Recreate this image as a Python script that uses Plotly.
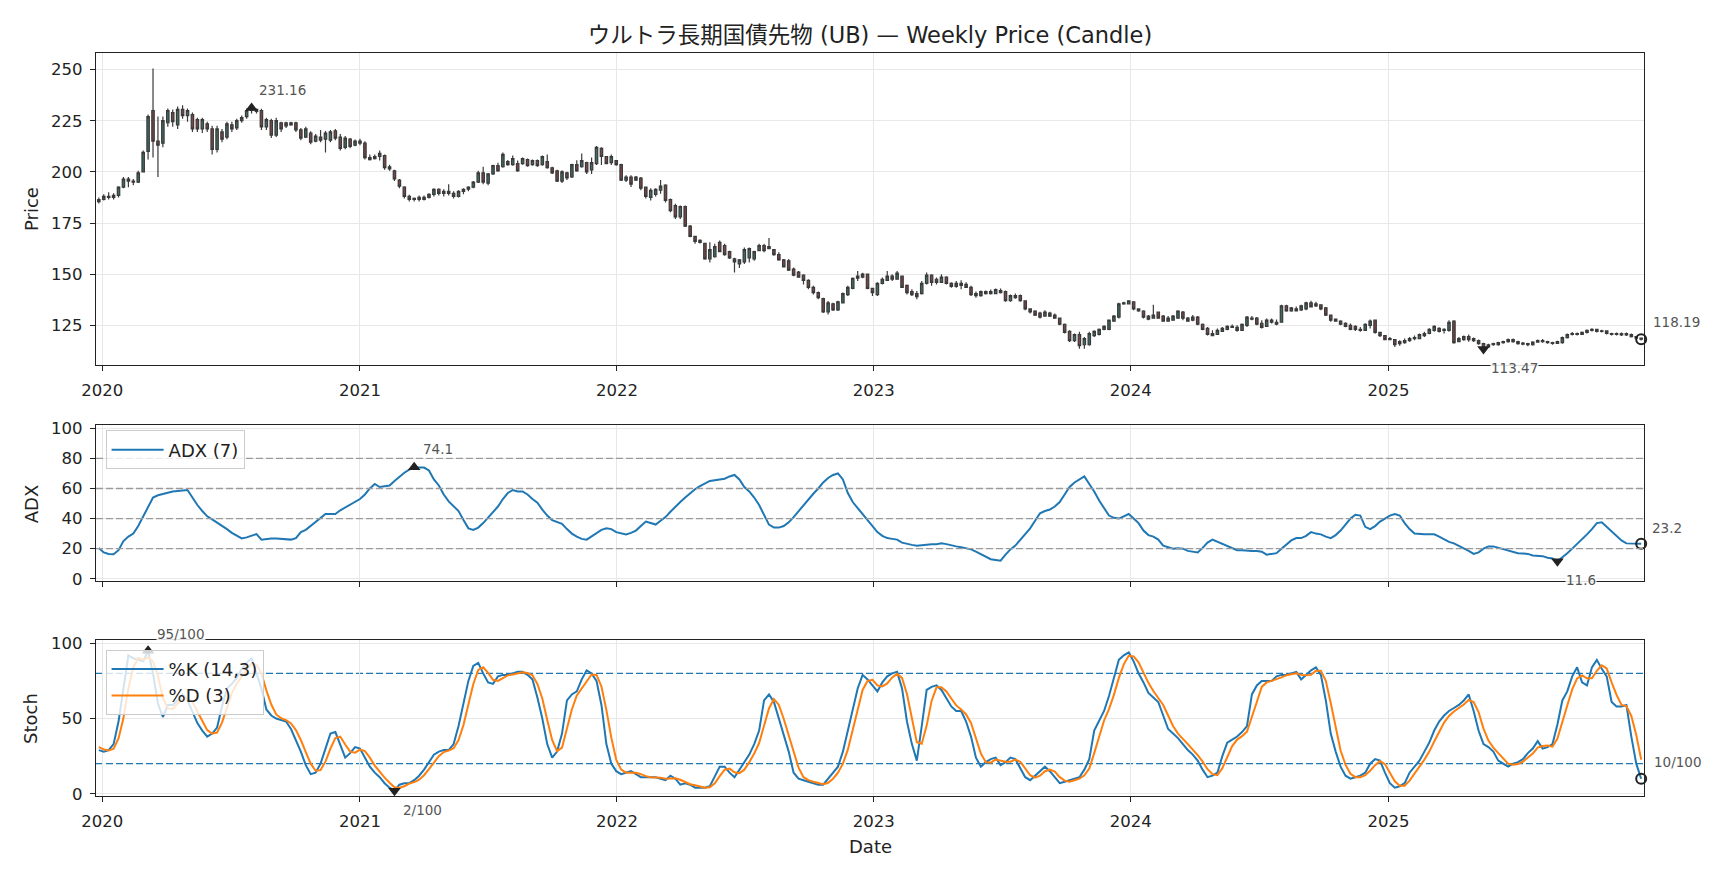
import pandas as pd
import plotly.graph_objects as go

# ---------------- data ----------------
start_date = "2019-12-27"
n_weeks = 314
dates = pd.date_range(start_date, periods=n_weeks, freq="7D")

price_open = [
    185.5, 186.5, 188, 187.5, 188.5, 192.5, 196.5, 195.5, 195, 200,
    210, 230, 215, 214, 224, 229, 223, 230.5, 227.5, 228,
    225.5, 221, 223.5, 221, 211, 219.5, 217, 223, 221.5, 225,
    227, 230, 230.5, 230, 222, 225, 218, 224, 224, 223,
    224, 220.5, 217, 219, 215, 217, 216, 215.5, 220, 217,
    212, 216, 213, 215, 214, 207, 206.5, 207.5, 208, 202.5,
    200.5, 196, 192.5, 188, 186.5, 186.5, 187.5, 187.5, 189, 191.5,
    189.5, 190.5, 189.5, 188, 190.5, 191.5, 192.5, 195, 199.5, 194.5,
    199, 203, 202.5, 205, 203.5, 204, 204, 206, 203.5, 205.5,
    203.5, 205, 202, 200.5, 195.5, 199.5, 197.5, 203.5, 202.5, 204.5,
    201, 204, 211.5, 207.5, 204.5, 205.5, 203.5, 196, 197.5, 196,
    197, 192.5, 187.5, 189, 191, 193.5, 186.5, 183.5, 178, 183,
    173.5, 168.5, 166.5, 165, 157.5, 158.5, 165.5, 164, 161, 157.5,
    155, 156, 158, 157.5, 161.5, 164, 162.5, 162, 159.5, 157,
    156.5, 152.5, 151, 149.5, 147, 143.5, 141, 138, 131.5, 135.5,
    132.5, 136, 140, 143, 148, 148.5, 150, 143, 140, 145.5,
    147, 149, 147.5, 149, 144.5, 141.5, 140.5, 140.5, 145.5, 149.5,
    147.5, 146, 148.5, 145.5, 144, 145.5, 145, 143.5, 140.5, 139.5,
    140.5, 141.5, 140.5, 142, 141.5, 137, 139.5, 139.5, 137, 133,
    132, 131, 129.5, 131, 130, 128.5, 125.5, 122, 117.5, 120.5,
    115.5, 115.5, 120, 120.5, 123, 123, 127, 129, 135.5, 135.5,
    136.5, 133, 132, 129.5, 128.5, 131.5, 129.5, 127, 127.5, 128.5,
    131.5, 128.5, 127.5, 129, 125.5, 123.5, 121, 120.5, 122, 123,
    124.5, 124, 122.5, 125, 128.5, 128.5, 126, 124.5, 127.5, 126.5,
    126.5, 134.5, 132, 133, 132.5, 133, 136, 134.5, 135, 133.5,
    130, 128, 127, 126, 125, 124.5, 123, 122.5, 125, 127.5,
    121.5, 120, 118, 118, 116, 116.5, 117.5, 118.5, 118.5, 120,
    121, 122.5, 123.5, 122.5, 122.5, 127, 117, 118, 119.5, 118.5,
    117.5, 116, 114.5, 115.5, 115.5, 116.5, 117, 118, 117, 116.3,
    116, 115.5, 116.8, 117.5, 117, 116.5, 116.2, 116.5, 119, 120.5,
    121, 120.5, 121.5, 122.5, 123, 122, 122.3, 121, 120.5, 121,
    120.3, 120.5, 119.5, 118.7,
]
price_high = [
    187.5, 189, 190, 189.5, 193, 197.5, 197.5, 196.5, 200.5, 210.5,
    228, 250.5, 227, 227, 231, 230.5, 232, 232.5, 231, 229,
    226.5, 226.5, 224.5, 222.5, 222.5, 221, 224.5, 224.5, 226, 227.5,
    231, 231.8, 231, 230.8, 226.5, 226, 226.5, 224.5, 224.5, 224.5,
    224.5, 221.5, 222, 219.8, 218.5, 220.5, 220, 220.5, 221, 218.5,
    217.5, 216.5, 215.8, 216.2, 215, 208.5, 208.5, 210.5, 208.5, 203.5,
    201, 196.5, 193, 188.8, 187.5, 188.5, 188.5, 189.5, 192, 192,
    191.5, 194, 190.5, 191, 192, 193, 195.5, 200.5, 202.5, 199.5,
    203.5, 204.5, 209.5, 205.8, 208, 205.5, 207, 206.5, 206, 206,
    208, 208.5, 202.5, 201, 200.8, 200, 204, 205.7, 209, 205,
    207, 212.6, 212, 207.8, 208.5, 205.8, 204, 198.4, 198.4, 198,
    197.5, 192.8, 192, 192, 196, 194, 187, 184.4, 183.6, 183.6,
    174, 168.8, 167, 165.3, 165.6, 164.8, 166.4, 164.8, 161.5, 158,
    157.4, 163, 163, 161.5, 164.8, 164.8, 167.7, 162.3, 160.7, 157.4,
    157.4, 153.3, 151.6, 150, 147.5, 144.3, 141.5, 138.5, 136.9, 136,
    137, 141, 144.3, 148.4, 151.6, 150.7, 150, 143.4, 146, 148.4,
    151.6, 150, 151.6, 149, 145, 142.6, 141.8, 146.7, 150.8, 150,
    148.4, 150, 149, 146, 146.7, 147, 146, 144.3, 141.5, 142,
    142, 142.5, 143, 143, 142, 140, 140.6, 140, 137, 133,
    132.4, 131.6, 132.4, 131.6, 130.8, 128.5, 125.9, 122.6, 121, 121.8,
    119.3, 121.8, 122.6, 123.4, 125, 127.8, 130, 136, 136.5, 137.3,
    136.5, 133, 132.4, 130, 135, 131.6, 130, 129.5, 130, 132.4,
    132, 129, 130, 129.5, 125.9, 124.2, 122.6, 123.4, 124.2, 125,
    125.4, 125, 125.9, 129.5, 129.5, 129, 127.5, 128.3, 128.3, 127.8,
    135, 135, 134, 134.2, 135, 136.5, 137, 136.5, 135, 134,
    130, 128.3, 127.5, 126.5, 125.9, 125, 124.2, 126, 127.8, 127.8,
    121.8, 120, 119.3, 118, 117.7, 118.5, 119.3, 120, 121, 121.8,
    123.6, 125, 124, 123.5, 127.5, 127.5, 119.3, 120, 120.5, 119,
    118, 116.5, 116, 116.5, 117, 117.5, 118.5, 118.5, 117.5, 116.8,
    116.5, 117.2, 118, 118.3, 117.5, 117, 117.5, 119.5, 121, 121.7,
    121.5, 122, 123, 123.5, 123.3, 122.8, 122.5, 121.3, 121.5, 121.5,
    121.5, 121, 119.8, 119,
]
price_low = [
    184.5, 186, 186.5, 186.5, 187.5, 192, 192.5, 193.5, 194.5, 200,
    206, 207, 197.5, 212, 222, 222, 221, 226, 224.5, 219.5,
    219.5, 219, 219.5, 208.5, 209.5, 214.5, 216, 219.5, 220.5, 224,
    226, 228.5, 228.5, 220.5, 220.5, 216.5, 217, 219.5, 221.5, 222.5,
    219.5, 215.5, 216.5, 213.5, 214.5, 214.5, 209.5, 214.5, 215.5, 210.5,
    211, 211.5, 212.5, 213, 206, 205.5, 206, 205.5, 201, 200.5,
    195.5, 192, 187, 185.5, 185.5, 185.5, 186, 187, 188, 188.5,
    188, 188.5, 187, 187.5, 189, 190.5, 192, 194.5, 194, 193.5,
    198.5, 200, 202, 203, 203, 200, 203.5, 202.5, 203, 202.5,
    203, 201.5, 199, 195, 194.5, 196, 197, 200, 202, 199,
    199, 203.3, 203.3, 203.8, 203.3, 203, 195.5, 195, 192.6, 195.5,
    191, 187, 186, 188, 189.3, 185, 180.3, 177, 177, 173,
    168, 164.8, 165, 157, 155.7, 158, 160.7, 159, 157.4, 150.8,
    153, 155, 155.7, 156.6, 161.5, 160.7, 162.3, 159, 156.6, 153.3,
    151.6, 149, 148.4, 145, 142.6, 140, 137.7, 131, 130.3, 132,
    132, 136, 139.3, 142.6, 146.7, 148, 142.6, 139.3, 139.3, 145,
    146.7, 146.7, 147.5, 143.4, 140, 139.3, 137.7, 140, 145, 144.3,
    145, 145.9, 145, 143.4, 143.4, 142.6, 143.4, 139.3, 138.5, 139,
    140, 140, 140.5, 140.5, 136.5, 136.5, 138, 136.5, 132.4, 130.8,
    129.5, 128.3, 129.5, 129, 128.3, 125, 121, 116.8, 116.8, 113.5,
    113.5, 115, 119.3, 120, 122.6, 122.6, 126.7, 128.3, 135, 135.4,
    132.4, 131.6, 128.3, 127.5, 128.3, 128.3, 126.7, 126.7, 127.5, 128.3,
    127.5, 126.7, 127, 125, 122.6, 120, 119.6, 120.5, 121.8, 122.6,
    123.7, 121.8, 122.6, 124.2, 127.5, 125, 123.4, 124.5, 125.9, 125,
    126.5, 131.6, 131.6, 131.8, 132, 132.4, 133.7, 134, 132.4, 129.5,
    126.7, 126.7, 125, 124, 122.6, 122.2, 121.8, 122.2, 123.4, 120.9,
    119.3, 117.7, 117.7, 114.4, 115, 116, 117, 117.7, 118.5, 119.3,
    120.6, 121.8, 121.5, 121, 121.8, 116, 116.8, 117.5, 117, 116.8,
    115.5, 113.0, 114, 115, 115, 116, 116.5, 116.5, 115.5, 115.3,
    114.8, 115, 116.5, 116.5, 116, 115.5, 115.8, 116, 118.5, 120,
    120, 120.3, 121, 122, 121.5, 121.5, 120.5, 120, 120, 119.8,
    119.8, 119, 118.2, 117.6,
]
price_close = [
    186.5, 188, 187.5, 188.5, 192.5, 196.5, 195.5, 195, 199.5, 209.5,
    227, 215, 213, 225, 230, 224.5, 230.5, 227.5, 230, 221,
    221, 225.5, 221, 211, 221, 216, 223.5, 221, 225, 226.5,
    230, 231.16, 229.5, 222, 225.5, 218, 225, 221, 222.5, 224,
    220.5, 216.5, 221, 214.5, 217.5, 215.5, 219, 219.5, 216.5, 211.5,
    216.5, 212.5, 215, 214, 207, 206, 207.5, 209, 202, 201.5,
    196.5, 193, 188, 186.5, 187, 187.5, 186.5, 189, 191.5, 189.5,
    190.5, 189.5, 188, 190.5, 191.5, 192.5, 195, 199.5, 195, 199,
    203, 200.5, 208.5, 203.5, 206.5, 200.5, 206.5, 203, 205.5, 203,
    207.5, 202, 199.5, 195.5, 200, 197, 203.5, 200.5, 205.5, 200,
    204.5, 212, 207.5, 204, 207.5, 203.5, 196, 197.5, 194, 197.5,
    192, 188, 191, 191.5, 193, 186, 181, 178, 183, 173.5,
    168.5, 166, 165.5, 157.5, 162, 163.5, 161, 159.5, 158, 156,
    157, 162, 162.5, 161, 164, 161.5, 163.5, 159.5, 157, 153.5,
    152, 149.5, 148.5, 147, 143.5, 141, 138.5, 131.5, 136, 132.5,
    136.5, 140.5, 143.5, 148, 149, 150, 143, 141, 145.5, 147.5,
    149, 147.5, 150.5, 143.5, 141, 140, 139, 145.5, 149.5, 146,
    146, 148.5, 145.5, 144, 145.5, 144.5, 143.5, 140, 139.5, 141.5,
    141.5, 140.5, 142.5, 141, 137, 139.5, 138.5, 137, 133, 131.5,
    130, 129, 131.5, 129.5, 128.5, 125.5, 121.5, 117.5, 120.5, 115,
    118.5, 121, 122, 123, 124.5, 127.5, 129.5, 135.5, 136, 137,
    133, 132, 129, 128, 130, 128.5, 127, 128.5, 129.5, 132,
    128.5, 127, 129, 125.5, 123, 120.5, 120, 122.5, 123.5, 124.5,
    124, 122.5, 125.5, 129, 128, 125.5, 124, 127.5, 126.5, 125.5,
    134.5, 132, 133.5, 132, 134.5, 136, 134, 135.5, 133, 130,
    127.5, 127, 125.5, 124.5, 123, 123, 122.5, 125.5, 127, 121.5,
    120, 118, 118.5, 115.5, 117, 117.5, 118.5, 119, 120.5, 121,
    123, 124.5, 122, 123, 126.5, 116.5, 118.5, 119.5, 118, 117.5,
    116, 113.47, 115.5, 116, 116.5, 117, 118, 117, 116, 115.8,
    115.5, 116.8, 117.5, 117, 116.5, 116.2, 117, 119, 120.5, 121,
    120.5, 121.5, 122.5, 123, 122, 122.3, 121, 120.5, 121, 120.3,
    121, 119.5, 118.7, 118.19,
]
adx_7 = [
    20.5, 17.5, 16.5, 16.3, 19, 25, 28, 30, 35, 41,
    47, 54, 55.5, 56.5, 57.4, 58, 58.3, 58.7, 59, 54,
    49, 45, 41.5, 39.5, 37.5, 35.5, 33, 30.5, 28.5, 26.8,
    27.5, 28.5, 29.7, 26, 26.5, 26.8, 26.8, 26.6, 26.2, 26,
    27, 31, 32.5, 35, 38, 40.5, 43, 43, 43, 45.5,
    47.5, 49.5, 51.5, 53, 56, 60, 63, 61, 61.5, 62,
    65, 68, 70.5, 72.6, 74.1, 74.0, 73.9, 72, 66, 62,
    56, 51.4, 48, 45, 39, 33.5, 32.4, 34, 37, 40.5,
    44, 48, 53, 57, 59, 58, 58, 56, 53, 50.5,
    46, 42, 39, 37.5, 36.5, 33, 30, 28, 26.5, 26,
    28, 30, 32.5, 33.5, 33, 31, 30, 29.5, 30.5, 32,
    35, 38, 37, 36, 38.5, 41, 44.5, 48, 51, 54,
    57, 59.5, 61.5, 63, 65, 65.5, 66, 66.5, 68, 69,
    66, 61, 58, 54, 49, 42, 36, 34, 34, 35,
    37.5, 41, 45, 49, 53, 56.5, 60, 64, 67, 69,
    70, 66, 57, 51, 47, 43, 39, 35, 31, 28.5,
    27, 26.5, 26, 24, 23, 22.5, 22, 22.5, 23, 23,
    23, 23.5, 23, 22, 21.5, 21, 20.5, 19.5, 18, 16.5,
    14.5, 13, 12.5, 12, 16, 19.5, 22, 26, 30, 33.5,
    38.5, 43.5, 45, 46, 48, 51, 56, 61, 64, 66,
    68, 63, 58, 52, 47, 42, 40.5, 40, 41.5, 43,
    40, 37, 32, 29, 28, 26, 22, 21, 20, 20.3,
    20, 18.5, 18, 17.5, 20.5, 24, 26, 24.5, 23, 21.5,
    20.5, 19, 19, 18.5, 18.5, 18.5, 18, 16, 16.5, 17,
    20, 22.5, 25.5, 27, 27, 28.5, 31, 30, 29.5, 28,
    27, 29, 32, 36, 40, 42.5, 42, 34.5, 33, 35,
    38, 40, 42, 43, 42, 37, 33, 30, 29.5, 29.5,
    29.5, 29.5, 28, 26, 24.5, 23.5, 22, 20.5, 18.5, 16.5,
    17.5, 20, 21.5, 21.5, 20.5, 19.5, 18.5, 17.5, 17, 16.8,
    16.5, 15.5, 15.5, 15, 14, 13.5, 11.6, 14, 17, 20,
    23, 26, 29.5, 33, 37, 37.5, 34.5, 31, 28, 25.5,
    23.5, 23.3, 23.2, 23.2,
]
stoch_k = [
    29, 28, 29, 33, 48, 70, 92, 90, 89, 88,
    95, 80, 60, 51, 59, 59, 62, 66, 62, 55,
    47, 42, 38, 40, 44, 58, 70, 73, 77, 83,
    87, 90, 80, 70, 56, 52, 50, 49, 48, 43,
    36, 28, 19, 13, 14, 20, 30, 40, 41, 33,
    24, 27, 31, 30, 24, 18, 14, 11, 7, 4,
    2, 6, 7, 7, 9, 12, 16, 21, 26, 28,
    29, 29, 33, 45, 59, 75, 85, 87, 80, 74,
    73, 78, 79, 79, 80, 81, 81, 79, 76, 64,
    50, 33, 24, 28, 40, 62, 66, 68, 76, 82,
    80, 75, 59, 33, 20, 15, 13, 14, 15, 13,
    11, 11, 11, 11, 10, 9, 12, 10, 6, 7,
    6, 4, 4, 4, 5, 12, 18, 18, 14, 11,
    16, 21, 26, 33, 42, 62, 66, 61, 50, 38,
    28, 14, 10, 9, 8, 7, 6, 6, 10, 14,
    18, 28, 42, 58, 70, 79, 76, 72, 68, 74,
    78, 80, 81, 70, 48, 33, 22, 45, 69, 71,
    72, 69, 63, 58, 55, 55, 48, 38, 24, 18,
    21, 23, 24, 19, 21, 24, 23, 17, 11, 9,
    12, 15, 18, 15, 11, 7, 8, 9, 10, 11,
    16, 23, 42, 49, 55, 65, 77, 89, 92, 94,
    88, 80, 74, 67, 64, 61, 52, 43, 40, 37,
    33, 29, 26, 22, 16, 11, 12, 14, 25, 34,
    36, 38, 41, 45, 66, 72, 75, 75, 75, 78,
    79, 79, 80, 81, 76, 79, 82, 84, 79, 62,
    40, 28, 18, 12, 10, 11, 12, 14, 20, 23,
    22, 14, 7, 4, 5, 7, 14, 18, 22, 28,
    34, 42, 48, 52, 55, 57, 59, 62, 66, 55,
    42, 33, 31, 28, 22, 20, 18, 20, 21, 23,
    27, 30, 35, 30, 31, 33, 46, 62, 68, 78,
    84, 74, 72, 84, 89, 83, 78, 61, 58, 58,
    59, 38, 20, 10,
]
stoch_d = [
    31, 29.5, 28.7, 30, 36.7, 50.3, 70, 84, 90.3, 89,
    90.7, 87.7, 78.3, 63.7, 56.7, 56.3, 60, 62.3, 63.3, 61,
    54.7, 48, 42.3, 40, 40.7, 47.3, 57.3, 67, 73.3, 77.7,
    82.3, 86.7, 85.7, 80, 68.7, 59.3, 52.7, 50.3, 49, 46.7,
    42.3, 35.7, 27.7, 20, 15.3, 15.7, 21.3, 30, 37, 38,
    32.7, 28, 27.3, 29.3, 28.3, 24, 18.7, 14.3, 10.7, 7.3,
    4.3, 4, 5, 6.7, 7.7, 9.3, 12.3, 16.3, 21, 25,
    27.7, 28.7, 30.3, 35.7, 45.7, 59.7, 73, 82.3, 84, 80.3,
    75.7, 75, 76.7, 78.7, 79.3, 80, 80.7, 80.3, 78.7, 73,
    63.3, 49, 35.7, 28.3, 30.7, 43.3, 56, 65.3, 70, 75.3,
    79.3, 79, 71.3, 55.7, 37.3, 22.7, 16, 14, 14, 14,
    13, 11.7, 11, 11, 10.7, 10, 10.3, 10.3, 9.3, 7.7,
    6.3, 5.7, 4.7, 4, 4.3, 7, 11.7, 16, 16.7, 14.3,
    13.7, 16, 21, 26.7, 33.7, 45.7, 56.7, 63, 59, 49.7,
    38.7, 26.7, 17.3, 11, 9, 8, 7, 6.3, 7.3, 10,
    14, 20, 29.3, 42.7, 56.7, 69, 75, 75.7, 72, 71.3,
    73.3, 77.3, 79.7, 77, 66.3, 50.3, 34.3, 33.3, 45.3, 61.7,
    70.7, 70.7, 68, 63.3, 58.7, 56, 52.7, 47, 36.7, 26.7,
    21, 20.7, 22.7, 22, 21.3, 21.3, 22.7, 21.3, 17, 12.3,
    10.7, 12, 15, 16, 14.7, 11, 8.7, 8, 9, 10,
    12.3, 16.7, 27, 38, 48.7, 56.3, 65.7, 77, 86, 91.7,
    91.3, 87.3, 80.7, 73.7, 68.3, 64, 59, 52, 45, 40,
    36.7, 33, 29.3, 25.7, 21.3, 16.3, 13, 12.3, 17, 24.3,
    31.7, 36, 38.3, 41.3, 50.7, 61, 71, 74, 75, 76,
    77.3, 78.7, 79.3, 80, 79, 78.7, 79, 81.7, 81.7, 75,
    60.3, 43.3, 28.7, 19.3, 13.3, 11, 11, 12.3, 15.3, 19,
    21.7, 19.7, 14.3, 8.3, 5.3, 5.3, 8.7, 13, 18, 22.7,
    28, 34.7, 41.3, 47.3, 51.7, 54.7, 57, 59.3, 62.3, 61,
    54.3, 43.3, 35.3, 30.7, 27, 23.3, 20, 19.3, 19.7, 21.3,
    23.7, 26.7, 30.7, 31.7, 32, 31.3, 36.7, 47, 58.7, 69.3,
    76.7, 78.7, 76.7, 76.7, 81.7, 85.3, 83.3, 74, 65.7, 59,
    58.3, 51.7, 39, 22.7,
]
year_ticks = ["2020-01-01", "2021-01-01", "2022-01-01", "2023-01-01", "2024-01-01", "2025-01-01"]
year_labels = ["2020", "2021", "2022", "2023", "2024", "2025"]
adx_levels = [20, 40, 60, 80]
stoch_levels = [20, 80]

# ---------------- figure ----------------
FONT = "DejaVu Sans, Noto Sans CJK JP"
AX = "#222222"
GRID = "#e8e8e8"
LBL = "#555555"

i_pmax = price_close.index(max(price_close))
i_pmin = price_close.index(min(price_close))
i_amax = adx_7.index(max(adx_7))
i_amin = adx_7.index(min(adx_7))
i_kmax = stoch_k.index(max(stoch_k))
i_kmin = stoch_k.index(min(stoch_k))
last = n_weeks - 1

fig = go.Figure()

fig.add_trace(go.Candlestick(
    x=dates, open=price_open, high=price_high, low=price_low, close=price_close,
    xaxis="x", yaxis="y", whiskerwidth=0, showlegend=False, hoverinfo="skip",
    increasing=dict(line=dict(color="#3a3a3a", width=1.2), fillcolor="#3f6b66"),
    decreasing=dict(line=dict(color="#3a3a3a", width=1.2), fillcolor="#7a4646"),
))

def mark(xv, yv, sym, xa, ya, size=11):
    fig.add_trace(go.Scatter(
        x=[xv], y=[yv], mode="markers", xaxis=xa, yaxis=ya, showlegend=False,
        cliponaxis=False, hoverinfo="skip",
        marker=dict(symbol=sym, size=size, color="#222222",
                    line=dict(color="#222222", width=2 if sym == "circle-open" else 0)),
    ))

mark(dates[i_pmax], price_close[i_pmax], "triangle-up", "x", "y")
mark(dates[i_pmin], price_close[i_pmin], "triangle-down", "x", "y")
mark(dates[last], price_close[last], "circle-open", "x", "y", 10)

fig.add_trace(go.Scatter(
    x=dates, y=adx_7, mode="lines", name="ADX (7)", xaxis="x2", yaxis="y2",
    line=dict(color="#1f77b4", width=2), legend="legend", hoverinfo="skip",
))
mark(dates[i_amax], adx_7[i_amax], "triangle-up", "x2", "y2")
mark(dates[i_amin], adx_7[i_amin], "triangle-down", "x2", "y2")
mark(dates[last], adx_7[last], "circle-open", "x2", "y2", 10)

fig.add_trace(go.Scatter(
    x=dates, y=stoch_k, mode="lines", name="%K (14,3)", xaxis="x3", yaxis="y3",
    line=dict(color="#1f77b4", width=2), legend="legend2", hoverinfo="skip",
))
fig.add_trace(go.Scatter(
    x=dates, y=stoch_d, mode="lines", name="%D (3)", xaxis="x3", yaxis="y3",
    line=dict(color="#ff7f0e", width=2), legend="legend2", hoverinfo="skip",
))
mark(dates[i_kmax], stoch_k[i_kmax], "triangle-up", "x3", "y3")
mark(dates[i_kmin], stoch_k[i_kmin], "triangle-down", "x3", "y3")
mark(dates[last], stoch_k[last], "circle-open", "x3", "y3", 10)

shapes = []
for lv in adx_levels:
    shapes.append(dict(type="line", xref="x2 domain", yref="y2", x0=0, x1=1, y0=lv, y1=lv,
                       line=dict(color="#9a9a9a", width=1.3, dash="7px,3px"), layer="above"))
for lv in stoch_levels:
    shapes.append(dict(type="line", xref="x3 domain", yref="y3", x0=0, x1=1, y0=lv, y1=lv,
                       line=dict(color="#1f77b4", width=1.3, dash="7px,3px"), layer="below"))

def ann(xv, yv, text, xa, ya, xs, ys, bg=True):
    d = dict(x=xv, y=yv, xref=xa, yref=ya, text=text, showarrow=False,
             xanchor="left", yanchor="middle", xshift=xs, yshift=ys,
             font=dict(family=FONT, size=13.5, color=LBL), borderpad=0)
    if bg:
        d["bgcolor"] = "rgba(255,255,255,0.85)"
    return d

annotations = [
    ann(dates[i_pmax], price_close[i_pmax], f"{price_close[i_pmax]:.2f}", "x", "y", 6, 18),
    ann(dates[i_pmin], price_close[i_pmin], f"{price_close[i_pmin]:.2f}", "x", "y", 6, -19),
    ann(dates[last], price_close[last], f"{price_close[last]:.2f}", "x", "y", 11, 17, False),
    ann(dates[i_amax], adx_7[i_amax], f"{adx_7[i_amax]:.1f}", "x2", "y2", 8, 18),
    ann(dates[i_amin], adx_7[i_amin], f"{adx_7[i_amin]:.1f}", "x2", "y2", 8, -19),
    ann(dates[last], adx_7[last], f"{adx_7[last]:.1f}", "x2", "y2", 10, 16, False),
    ann(dates[i_kmax], stoch_k[i_kmax], f"{stoch_k[i_kmax]:.0f}/100", "x3", "y3", 8, 17),
    ann(dates[i_kmin], stoch_k[i_kmin], f"{stoch_k[i_kmin]:.0f}/100", "x3", "y3", 8, -19),
    ann(dates[last], stoch_k[last], f"{stoch_k[last]:.0f}/100", "x3", "y3", 12, 17, False),
]

def ytitle(text, yc):
    return dict(x=-0.042, y=yc, xref="paper", yref="paper", text=text, showarrow=False,
                textangle=-90, xanchor="center", yanchor="middle",
                font=dict(family=FONT, size=18, color=AX))

annotations += [
    ytitle("Price", 0.790),
    ytitle("ADX", 0.394),
    ytitle("Stoch", 0.105),
    dict(x=0.5, y=-0.0686, xref="paper", yref="paper", text="Date", showarrow=False,
         xanchor="center", yanchor="middle", font=dict(family=FONT, size=18, color=AX)),
]

xrange_ = ["2019-12-23", "2025-12-30"]
common_x = dict(type="date", range=xrange_, tickvals=year_ticks, ticktext=year_labels,
                showgrid=True, gridcolor=GRID, gridwidth=1, showline=True, mirror=True,
                linecolor=AX, linewidth=1.3, ticks="outside", ticklen=5, tickwidth=1.2,
                tickcolor=AX, zeroline=False, ticklabelstandoff=5,
                tickfont=dict(family=FONT, size=16.5, color=AX))
common_y = dict(showgrid=True, gridcolor=GRID, gridwidth=1, showline=True, mirror=True,
                linecolor=AX, linewidth=1.3, ticks="outside", ticklen=5, tickwidth=1.2,
                tickcolor=AX, zeroline=False, ticklabelstandoff=4,
                tickfont=dict(family=FONT, size=16.5, color=AX))

# page is photographed with an 8px body margin, so the figure is 8px smaller
fig.update_layout(
    width=1720, height=870,
    margin=dict(l=88, r=84, t=45, b=82),
    paper_bgcolor="white", plot_bgcolor="white",
    font=dict(family=FONT, size=16, color=AX),
    title=dict(text="ウルトラ長期国債先物 (UB) — Weekly Price (Candle)", x=0.5, xref="paper",
               y=1 - 27 / 870, yref="container", xanchor="center", yanchor="middle",
               font=dict(family=FONT, size=22.5, color=AX)),
    xaxis=dict(common_x, anchor="y", domain=[0, 1], rangeslider=dict(visible=False),
               showticklabels=True),
    xaxis2=dict(common_x, anchor="y2", domain=[0, 1], matches="x", showticklabels=False),
    xaxis3=dict(common_x, anchor="y3", domain=[0, 1], matches="x", showticklabels=True),
    yaxis=dict(common_y, domain=[0.5801, 1.0], range=[105.6, 258.1],
               tickvals=[125, 150, 175, 200, 225, 250]),
    yaxis2=dict(common_y, domain=[0.2894, 0.4993], range=[-1.5, 102.2],
                tickvals=[0, 20, 40, 60, 80, 100]),
    yaxis3=dict(common_y, domain=[0.0, 0.2100], range=[-1.5, 102.2],
                tickvals=[0, 50, 100]),
    shapes=shapes,
    annotations=annotations,
    boxgap=0.3,
    legend=dict(x=0.0062, y=0.492, xanchor="left", yanchor="top", itemwidth=52,
                bgcolor="rgba(255,255,255,0.8)", bordercolor="#cccccc", borderwidth=1,
                font=dict(family=FONT, size=18, color=AX)),
    legend2=dict(x=0.0062, y=0.1967, xanchor="left", yanchor="top", itemwidth=52,
                 bgcolor="rgba(255,255,255,0.8)", bordercolor="#cccccc", borderwidth=1,
                 font=dict(family=FONT, size=18, color=AX), tracegroupgap=0),
    hovermode=False,
)

fig.write_html("out.html")
